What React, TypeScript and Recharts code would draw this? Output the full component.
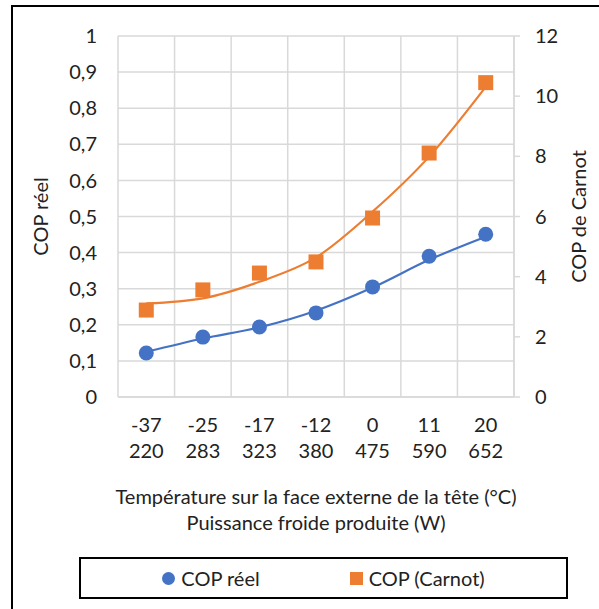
import React from 'react'
import { ComposedChart, Line, XAxis, YAxis, CartesianGrid, Legend } from 'recharts'

const temperatures = ['-37', '-25', '-17', '-12', '0', '11', '20']
const powers = ['220', '283', '323', '380', '475', '590', '652']
const copReel = [0.122, 0.166, 0.194, 0.233, 0.305, 0.39, 0.451]
const copCarnot = [2.89, 3.56, 4.12, 4.49, 5.95, 8.11, 10.45]
const trendReel = [0.125, 0.162, 0.193, 0.239, 0.303, 0.38, 0.444]
const trendCarnot = [3.11, 3.28, 3.83, 4.64, 6.16, 7.99, 10.31]
const leftTicks = [0, 0.1, 0.2, 0.3, 0.4, 0.5, 0.6, 0.7, 0.8, 0.9, 1]
const rightTicks = [0, 2, 4, 6, 8, 10, 12]

const data = temperatures.map((t, i) => ({
  cat: `${t}|${powers[i]}`,
  reel: copReel[i],
  carnot: copCarnot[i],
  trendReel: trendReel[i],
  trendCarnot: trendCarnot[i],
}))

const FONT = 'Lato, "Liberation Sans", sans-serif'
const FS = 20
const TXT = '#222'
const GRID = '#d9d9d9'
const BLUE = '#4472C4'
const ORANGE = '#ED7D31'

const legendItems = [
  { name: 'COP réel', color: BLUE, round: true },
  { name: 'COP (Carnot)', color: ORANGE, round: false },
]

const fmt = (v: number) => String(v).replace('.', ',')

function XTick(props: any) {
  const { x, y, payload } = props
  const [t, p] = String(payload.value).split('|')
  return (
    <text x={x} y={y} textAnchor='middle' fill={TXT} fontSize={FS} fontFamily={FONT}>
      <tspan x={x} dy={35}>{t}</tspan>
      <tspan x={x} dy={26}>{p}</tspan>
    </text>
  )
}

function XTitle(props: any) {
  const { viewBox } = props
  const cx = viewBox.x + viewBox.width / 2
  return (
    <text x={cx} y={viewBox.y} textAnchor='middle' fill={TXT} fontSize={FS} fontFamily={FONT}>
      <tspan x={cx} dy={107}>Température sur la face externe de la tête (°C)</tspan>
      <tspan x={cx} dy={26}>Puissance froide produite (W)</tspan>
    </text>
  )
}

function YTitle(props: any) {
  const { viewBox, value, dx } = props
  const cx = viewBox.x + dx
  const cy = viewBox.y + viewBox.height / 2
  return (
    <text
      x={cx}
      y={cy}
      transform={`rotate(-90 ${cx} ${cy})`}
      textAnchor='middle'
      dominantBaseline='central'
      fill={TXT}
      fontSize={FS}
      fontFamily={FONT}
    >
      {value}
    </text>
  )
}

function Square(props: any) {
  const { cx, cy } = props
  if (cx == null || cy == null) return null
  return <rect x={cx - 7.5} y={cy - 7.5} width={15} height={15} fill={ORANGE} />
}

function LegendBox() {
  return (
    <div
      style={{
        boxSizing: 'border-box',
        width: '100%',
        height: '100%',
        border: '2px solid #000',
        display: 'flex',
        alignItems: 'center',
        justifyContent: 'center',
        gap: 90,
        fontFamily: FONT,
        fontSize: FS,
        color: TXT,
        background: '#fff',
      }}
    >
      {legendItems.map((it) => (
        <div key={it.name} style={{ display: 'flex', alignItems: 'center' }}>
          <span
            style={{
              display: 'inline-block',
              width: 13,
              height: 13,
              marginRight: 6,
              background: it.color,
              borderRadius: it.round ? '50%' : 0,
            }}
          />
          <span>{it.name}</span>
        </div>
      ))}
    </div>
  )
}

export default function App() {
  return (
    <div style={{ position: 'absolute', left: 0, top: 0, width: 599, height: 609, background: '#fff', overflow: 'hidden' }}>
      <div style={{ position: 'absolute', left: 11, top: 5, width: 2, height: 604, background: '#000' }} />
      <div style={{ position: 'absolute', left: 11, top: 5, width: 588, height: 2, background: '#000' }} />
      <ComposedChart
        width={599}
        height={609}
        data={data}
        margin={{ top: 36, right: 0, bottom: 62, left: 0 }}
      >
        <CartesianGrid
          yAxisId='left'
          stroke={GRID}
          strokeWidth={1.5}
          verticalCoordinatesGenerator={({ offset }: any) =>
            temperatures.map((_, i) => offset.left + (i * offset.width) / temperatures.length).concat(offset.left + offset.width)
          }
        />
        <XAxis
          dataKey='cat'
          scale='band'
          height={150}
          tick={<XTick />}
          tickLine={false}
          tickSize={0}
          tickMargin={0}
          axisLine={{ stroke: GRID, strokeWidth: 1.5 }}
          interval={0}
          label={<XTitle />}
        />
        <YAxis
          yAxisId='left'
          orientation='left'
          width={118}
          domain={[0, 1]}
          ticks={leftTicks}
          tickFormatter={fmt}
          axisLine={false}
          tickLine={false}
          tickSize={0}
          tickMargin={21}
          tick={{ fill: TXT, fontSize: FS, fontFamily: FONT }}
          label={<YTitle value='COP réel' dx={40} />}
        />
        <YAxis
          yAxisId='right'
          orientation='right'
          width={85}
          domain={[0, 12]}
          ticks={rightTicks}
          axisLine={{ stroke: GRID, strokeWidth: 1.5 }}
          tickLine={{ stroke: GRID, strokeWidth: 1.5 }}
          tickSize={6}
          tickMargin={15}
          tick={{ fill: TXT, fontSize: FS, fontFamily: FONT, textAnchor: 'start' }}
          label={<YTitle value='COP de Carnot' dx={64} />}
        />
        <Line
          yAxisId='left'
          dataKey='trendReel'
          type='monotone'
          stroke={BLUE}
          strokeWidth={2.2}
          dot={false}
          legendType='none'
          isAnimationActive={false}
        />
        <Line
          yAxisId='right'
          dataKey='trendCarnot'
          type='monotone'
          stroke={ORANGE}
          strokeWidth={2.2}
          dot={false}
          legendType='none'
          isAnimationActive={false}
        />
        <Line
          yAxisId='left'
          dataKey='reel'
          name='COP réel'
          stroke='none'
          legendType='circle'
          dot={{ r: 7.5, fill: BLUE, stroke: 'none' }}
          isAnimationActive={false}
        />
        <Line
          yAxisId='right'
          dataKey='carnot'
          name='COP (Carnot)'
          stroke='none'
          legendType='square'
          dot={<Square />}
          isAnimationActive={false}
        />
        <Legend
          verticalAlign='middle'
          align='center'
          content={<LegendBox />}
          wrapperStyle={{ left: 79, top: 557, width: 489, height: 42 }}
        />
      </ComposedChart>
    </div>
  )
}
